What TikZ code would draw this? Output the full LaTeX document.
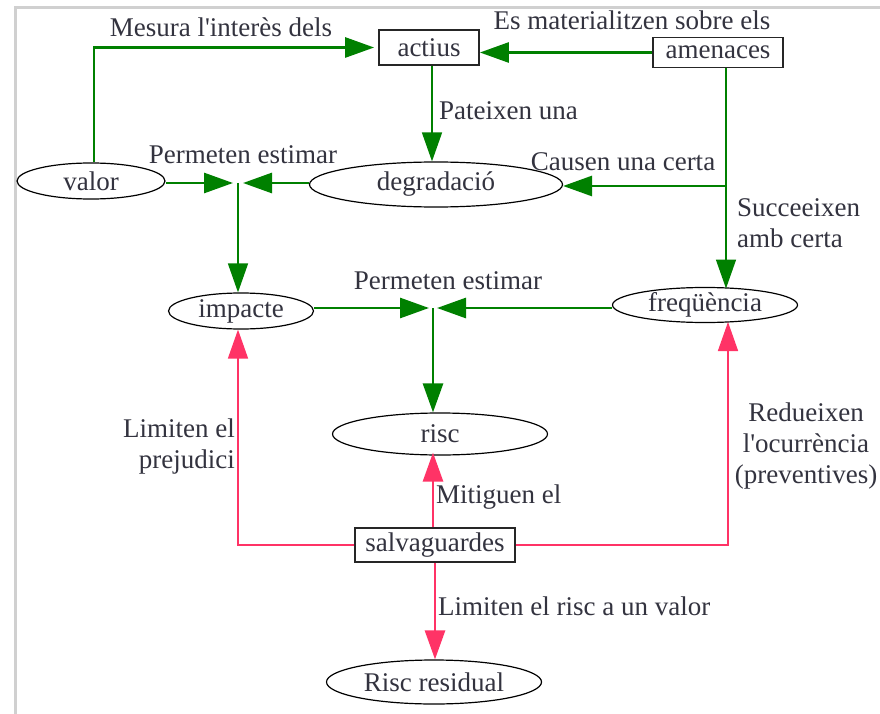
\documentclass[tikz,border=0pt]{standalone}
\usepackage{fontspec}
\setmainfont{Liberation Serif}
\usetikzlibrary{arrows.meta,shapes.geometric}
\definecolor{linkgreen}{HTML}{008000}
\definecolor{linkpink}{HTML}{FF3366}
\definecolor{labeltext}{HTML}{33333F}
\definecolor{framegray}{HTML}{D0D0D0}
\tikzset{
  every node/.style={font=\fontsize{27}{31}\selectfont, text=labeltext},
  box/.style={draw=black!85, line width=1.8pt, rectangle, inner sep=0pt},
  oval/.style={draw=black, line width=1.2pt, ellipse, inner sep=0pt},
  lbl/.style={inner sep=0pt},
  tip/.style={-{Triangle[length=29pt,width=20pt]}},
  gthick/.style={draw=linkgreen, line width=2.8pt},
  gthin/.style={draw=linkgreen, line width=1.5pt},
  pthick/.style={draw=linkpink, line width=2.8pt},
  pthin/.style={draw=linkpink, line width=1.5pt},
}
\begin{document}
\begin{tikzpicture}[x=1pt, y=-1pt]
\useasboundingbox (0,0) rectangle (880,714);
\fill[white] (0,0) rectangle (880,714);
% window frame
\draw[framegray, line width=2.5pt] (15.5,714) -- (15.5,7.5) -- (880,7.5);

% concepts
\node[box, minimum width=100pt, minimum height=35pt] (actius) at (429,47.5) {actius};
\node[box, minimum width=130pt, minimum height=30pt] (amenaces) at (718,52.5) {amenaces};
\node[oval, minimum width=148pt, minimum height=36pt] (valor) at (91,181) {valor};
\node[oval, minimum width=253pt, minimum height=45pt] (degradacio) at (436,184.5) {degradació};
\node[oval, minimum width=145pt, minimum height=36pt] (impacte) at (241,311) {impacte};
\node[oval, minimum width=185pt, minimum height=34pt] (freq) at (705,305) {freqüència};
\node[oval, minimum width=215pt, minimum height=42pt] (risc) at (440,434) {risc};
\node[box, minimum width=160pt, minimum height=34pt] (salv) at (435,545) {salvaguardes};
\node[oval, minimum width=215pt, minimum height=44pt] (residual) at (434,682) {Risc residual};

% junctions and attachment points
\coordinate (j1) at (238,183);
\coordinate (j2) at (433,308);
\coordinate (br) at (726,186);
\coordinate (ftop) at (726,288.5);
\coordinate (fbot) at (728,322);

% green links
\draw[gthick, tip, shorten >=4pt] ([xshift=3pt]valor.north) |- (actius.west);
\draw[gthick, tip] (amenaces.west) -- (amenaces.west -| actius.east);
\draw[gthin, tip] ([xshift=3pt]actius.south) -- ([xshift=-4pt]degradacio.north);
\draw[gthin, tip] (amenaces.south -| ftop) -- (ftop);
\draw[gthick, tip] (br) -- (degradacio.east |- br);
\draw[gthick, tip, shorten >=5pt] (valor.east |- j1) -- (j1);
\draw[gthick, tip, shorten >=5pt] (degradacio.west |- j1) -- (j1);
\draw[gthin, tip] (j1) -- (j1 |- impacte.north);
\draw[gthick, tip, shorten >=4pt] (impacte.east |- j2) -- (j2);
\draw[gthick, tip, shorten >=4pt] (freq.west |- j2) -- (j2);
\draw[gthick, tip] (j2) -- (j2 |- risc.north);

% pink links
\draw[pthin, tip] (salv.west) -| ([xshift=-3pt]impacte.south);
\draw[pthin, tip] (salv.east) -| (fbot);
\draw[pthick, tip, shorten >=-3pt] ([xshift=-2pt]salv.north) -- ([xshift=-2pt]salv.north |- risc.south);
\draw[pthick, tip] (salv.south) -- (salv.south |- residual.north);

% link labels
\node[lbl] (l1) at (221,27) {Mesura l\textquotesingle interès dels};
\node[lbl] (l2) at (632,20) {Es materialitzen sobre els};
\node[lbl, anchor=west] (l3) at (439,111) {Pateixen una};
\node[lbl] (l4) at (243,155) {Permeten estimar};
\node[lbl] (l5) at (623,162) {Causen una certa};
\node[lbl, anchor=north west, align=left] (l6) at (737,198) {Succeeixen\\amb certa};
\node[lbl] (l7) at (448,281) {Permeten estimar};
\node[lbl, anchor=north east, align=right] (l8) at (235,419) {Limiten el\\prejudici};
\node[lbl, anchor=west] (l9) at (436,497) {Mitiguen el};
\node[lbl, anchor=north, align=center] (l10) at (806,403) {Redueixen\\l\textquotesingle ocurrència\\(preventives)};
\node[lbl, anchor=west] (l11) at (438,606) {Limiten el risc a un valor};
\end{tikzpicture}
\end{document}
